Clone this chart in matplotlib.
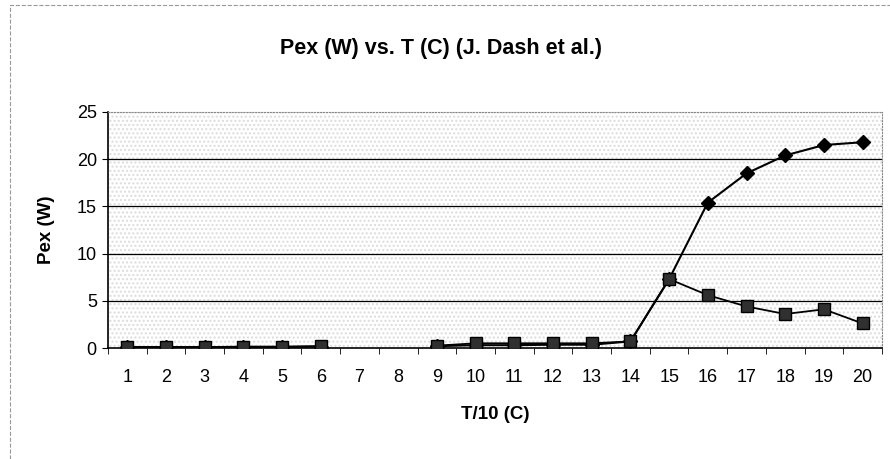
import matplotlib

matplotlib.use("Agg")
import matplotlib.pyplot as plt
import matplotlib.patches as mpatches
import numpy as np

plt.rcParams["font.family"] = ["Liberation Sans", "DejaVu Sans"]

# ── Data ─────────────────────────────────────────────────────────
categories = list(range(1, 21))
series_diamond = [0.1, 0.1, 0.1, 0.1, 0.1, 0.15, np.nan, np.nan, 0.2, 0.3,
                  0.3, 0.35, 0.35, 0.7, 7.3, 15.4, 18.5, 20.4, 21.5, 21.8]
series_square = [0.1, 0.1, 0.1, 0.15, 0.15, 0.2, np.nan, np.nan, 0.25, 0.5,
                 0.5, 0.5, 0.5, 0.7, 7.3, 5.6, 4.4, 3.6, 4.1, 2.6]
y_ticks = [0, 5, 10, 15, 20, 25]

# ── Figure ───────────────────────────────────────────────────────
fig = plt.figure(figsize=(8.9, 4.59), dpi=100)
ax = fig.add_axes([0.1213, 0.2418, 0.8697, 0.5142])

x = np.arange(len(categories))

ax.plot(x, series_diamond, "-", color="black", linewidth=1.5,
        marker="D", markersize=7.5, markerfacecolor="black", zorder=4)
ax.plot(x, series_square, "-", color="black", linewidth=1.3,
        marker="s", markersize=8, markerfacecolor="#303030",
        markeredgecolor="black", zorder=5)

ax.set_xlim(-0.5, len(categories) - 0.5)
ax.set_ylim(0, 25)
ax.set_yticks(y_ticks)
ax.set_xticks(x)
ax.set_xticklabels([str(c) for c in categories], fontsize=13)
ax.set_xticks(np.arange(-0.5, len(categories)), minor=True)
ax.tick_params(axis="x", which="major", length=0, pad=15)
ax.tick_params(axis="x", which="minor", length=4, direction="out", color="black")
ax.tick_params(axis="y", labelsize=13, length=4, direction="out", pad=4)

# horizontal gridlines
for yv in y_ticks[1:-1]:
    ax.axhline(yv, color="black", linewidth=0.9, zorder=1)

# faint stippled background
ax.set_facecolor("white")
bg = mpatches.Rectangle((0, 0), 1, 1, transform=ax.transAxes, facecolor="none",
                        edgecolor="#dcdcdc", hatch="....", linewidth=0, zorder=0)
ax.add_patch(bg)

for side in ["top", "right"]:
    ax.spines[side].set_linestyle(":")
    ax.spines[side].set_color("#888888")
ax.spines["left"].set_linewidth(1.2)
ax.spines["bottom"].set_linewidth(1.2)

ax.set_xlabel("T/10 (C)", fontsize=13.5, fontweight="bold")
ax.xaxis.set_label_coords(0.5, -0.245)
ax.set_ylabel("Pex (W)", fontsize=13.5, fontweight="bold")
ax.yaxis.set_label_coords(-0.068, 0.5)
fig.text(0.496, 0.895, "Pex (W) vs. T (C) (J. Dash et al.)", ha="center",
         va="center", fontsize=15.5, fontweight="bold")

# dashed chart-area border
border = mpatches.Rectangle((0.011, -0.1), 1.2, 1.09, transform=fig.transFigure,
                            fill=False, edgecolor="#999999", linestyle="--",
                            linewidth=0.8)
fig.patches.append(border)

fig.savefig("out.png", dpi=100)
plt.close()
